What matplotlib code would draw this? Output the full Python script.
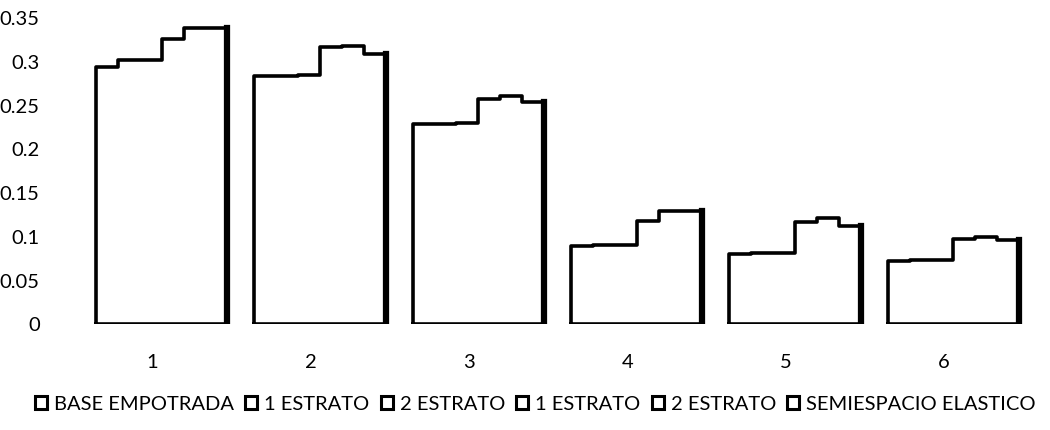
import numpy as np
import matplotlib
matplotlib.use('Agg')
import matplotlib.pyplot as plt
from matplotlib.patches import Patch

# Values (6 cases x 6 series)
categories = ['1', '2', '3', '4', '5', '6']
series_names = ['BASE EMPOTRADA', '1 ESTRATO', '2 ESTRATO', '1 ESTRATO', '2 ESTRATO',
                'SEMIESPACIO ELASTICO']
base_empotrada = [0.293, 0.283, 0.228, 0.089, 0.079, 0.071]
estrato1_a = [0.301, 0.283, 0.228, 0.090, 0.080, 0.072]
estrato2_a = [0.301, 0.284, 0.229, 0.090, 0.080, 0.072]
estrato1_b = [0.325, 0.316, 0.256, 0.117, 0.116, 0.097]
estrato2_b = [0.338, 0.317, 0.260, 0.128, 0.121, 0.099]
semiespacio = [0.338, 0.308, 0.253, 0.128, 0.111, 0.095]

series = [base_empotrada, estrato1_a, estrato2_a, estrato1_b, estrato2_b, semiespacio]

plt.rcParams['font.family'] = ['Lato', 'DejaVu Sans']

fig = plt.figure(figsize=(10.5, 4.31), dpi=100)
ax = fig.add_axes([73 / 1050, 1 - 324.5 / 431, 950 / 1050, 306.5 / 431])

x = np.arange(1, len(categories) + 1)
n = len(series)
bw = 0.138
shift = 0.06  # the groups sit a little right of their labels in the original
data = np.array(series)

for j in range(n):
    ax.bar(x + shift + (j - (n - 1) / 2) * bw, data[j], width=bw,
           color='white', edgecolor='none', zorder=1)

# outline each group as one stepped shape
for i in range(len(categories)):
    left = x[i] + shift - n * bw / 2
    edges = left + bw * np.arange(n + 1)
    h = data[:, i]
    xs = [edges[0]]
    ys = [0]
    for j in range(n):
        xs += [edges[j], edges[j + 1]]
        ys += [h[j], h[j]]
    xs += [edges[-1], edges[0]]
    ys += [0, 0]
    ax.plot(xs, ys, color='black', lw=2.6, solid_joinstyle='round', zorder=2)
    ax.plot([edges[-1], edges[-1]], [0, h[-1]], color='black', lw=4.5, zorder=3)

ax.set_xlim(0.5, 6.5)
ax.set_ylim(0, 0.35)
ax.set_yticks([0, 0.05, 0.1, 0.15, 0.2, 0.25, 0.3, 0.35])
ax.set_yticklabels(['0', '0.05', '0.1', '0.15', '0.2', '0.25', '0.3', '0.35'])
ax.set_xticks(x)
ax.set_xticklabels(categories)
ax.tick_params(length=0, labelsize=14.5)
ax.tick_params(axis='y', pad=24)
ax.tick_params(axis='x', pad=21)
for s in ax.spines.values():
    s.set_visible(False)

handles = [Patch(facecolor='white', edgecolor='black', linewidth=2.2, label=nm)
           for nm in series_names]
fig.legend(handles=handles, loc='center', bbox_to_anchor=(0.51, 1 - 405 / 431),
           ncol=6, frameon=False, fontsize=14.5, handlelength=0.6, handleheight=0.6,
           handletextpad=0.35, columnspacing=0.55)

plt.savefig('out.png', dpi=100)
